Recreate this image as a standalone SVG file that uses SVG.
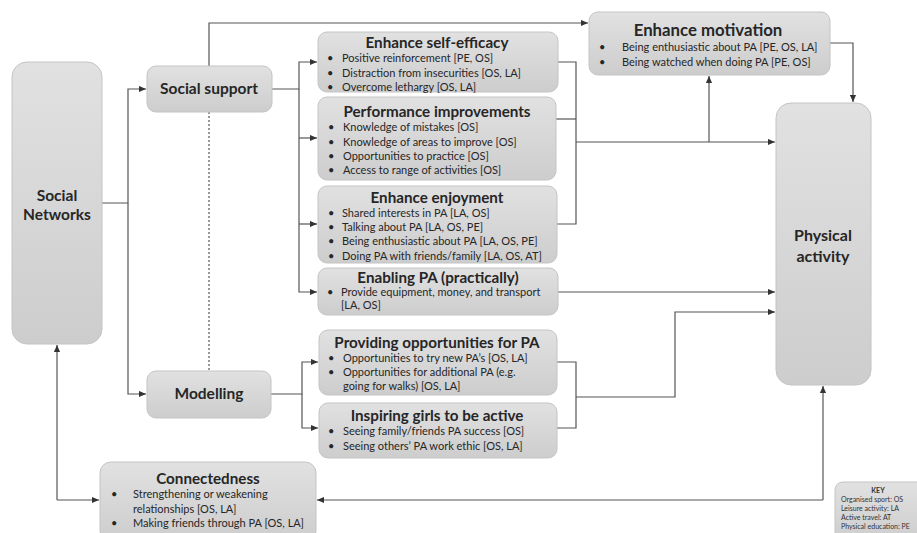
<svg xmlns="http://www.w3.org/2000/svg" width="917" height="533" viewBox="0 0 917 533">
<defs>
<linearGradient id="g" x1="0" y1="0" x2="0" y2="1">
<stop offset="0" stop-color="#e1e1e2"/>
<stop offset="1" stop-color="#cdcdce"/>
</linearGradient>
<marker id="a" viewBox="0 0 8 8" refX="8" refY="4" markerWidth="7" markerHeight="7" markerUnits="userSpaceOnUse" orient="auto">
<path d="M0,0.5 L8,4 L0,7.5 Z" fill="#333"/>
</marker>
<style>
.box{fill:url(#g);stroke:#c4c4c4;stroke-width:1}
.t{font-family:Lato,"Liberation Sans",sans-serif;font-weight:bold;fill:#262626;text-anchor:middle}
.tt{font-size:15.2px}
.big{font-size:15.5px}
.b{font-family:Lato,"Liberation Sans",sans-serif;font-size:11px;fill:#262626}
.k{font-family:Lato,"Liberation Sans",sans-serif;font-size:7px;fill:#333}
.c{fill:none;stroke:#555;stroke-width:1.2}
.arr{marker-end:url(#a)}
</style>
</defs>

<g id="connectors">
<path class="c arr" d="M102,203 H128 V89 H146"/>
<path class="c arr" d="M128,203 V394 H146"/>
<path class="c" d="M209,112 V371" stroke-dasharray="2,2"/>
<path class="c arr" d="M209,66 V23 H588"/>
<path class="c arr" d="M272,89 H299 V62 H317"/>
<path class="c arr" d="M299,89 V292 H317"/>
<path class="c arr" d="M299,138 H317"/>
<path class="c arr" d="M299,224 H317"/>
<path class="c" d="M558,62 H576 V224 H557"/>
<path class="c" d="M556,119 H576"/>
<path class="c arr" d="M576,142 H775"/>
<path class="c arr" d="M709,142 V76"/>
<path class="c arr" d="M558,292 H775"/>
<path class="c arr" d="M271,394 H302 V362 H318"/>
<path class="c arr" d="M302,394 V428 H318"/>
<path class="c" d="M557,362 H576 V428 H557"/>
<path class="c arr" d="M576,397 H675 V312 H775"/>
<path class="c arr" d="M830,43 H853 V102"/>
<path class="c arr" d="M823,500 V386"/>
<path class="c arr" d="M823,500 H317"/>
<path class="c arr" d="M57,500 V345"/>
<path class="c arr" d="M57,500 H99"/>
</g>

<g id="social-networks">
<rect class="box" x="12" y="62" width="90" height="282" rx="15"/>
<text class="t big" x="57" y="201">Social</text>
<text class="t big" x="57" y="220">Networks</text>
</g>

<g id="social-support">
<rect class="box" x="147" y="66" width="125" height="46" rx="9"/>
<text class="t big" x="209" y="94">Social support</text>
</g>

<g id="modelling">
<rect class="box" x="147" y="371" width="124" height="47" rx="9"/>
<text class="t big" x="209" y="399">Modelling</text>
</g>

<g id="enhance-motivation">
<rect class="box" x="589" y="12" width="241" height="63" rx="9"/>
<text class="t" x="708" y="36" font-size="16.8">Enhance motivation</text>
<text class="b" x="599" y="51">•</text><text class="b" x="622" y="51">Being enthusiastic about PA [PE, OS, LA]</text>
<text class="b" x="599" y="66">•</text><text class="b" x="622" y="66">Being watched when doing PA [PE, OS]</text>
</g>

<g id="enhance-self-efficacy">
<rect class="box" x="318" y="32" width="240" height="60" rx="9"/>
<text class="t tt" x="437" y="48">Enhance self-efficacy</text>
<text class="b" x="327" y="62">•</text><text class="b" x="342" y="62">Positive reinforcement [PE, OS]</text>
<text class="b" x="327" y="77">•</text><text class="b" x="342" y="77">Distraction from insecurities [OS, LA]</text>
<text class="b" x="327" y="91">•</text><text class="b" x="342" y="91">Overcome lethargy [OS, LA]</text>
</g>

<g id="performance-improvements">
<rect class="box" x="318" y="97" width="238" height="83" rx="9"/>
<text class="t tt" x="437" y="117">Performance improvements</text>
<text class="b" x="328" y="131">•</text><text class="b" x="343" y="131">Knowledge of mistakes [OS]</text>
<text class="b" x="328" y="146">•</text><text class="b" x="343" y="146">Knowledge of areas to improve [OS]</text>
<text class="b" x="328" y="160">•</text><text class="b" x="343" y="160">Opportunities to practice [OS]</text>
<text class="b" x="328" y="174">•</text><text class="b" x="343" y="174">Access to range of activities [OS]</text>
</g>

<g id="enhance-enjoyment">
<rect class="box" x="318" y="186" width="239" height="77" rx="9"/>
<text class="t tt" x="437" y="203">Enhance enjoyment</text>
<text class="b" x="328" y="217">•</text><text class="b" x="342" y="217">Shared interests in PA [LA, OS]</text>
<text class="b" x="328" y="231">•</text><text class="b" x="342" y="231">Talking about PA [LA, OS, PE]</text>
<text class="b" x="328" y="245">•</text><text class="b" x="342" y="245">Being enthusiastic about PA [LA, OS, PE]</text>
<text class="b" x="328" y="260">•</text><text class="b" x="342" y="260">Doing PA with friends/family [LA, OS, AT]</text>
</g>

<g id="enabling-pa">
<rect class="box" x="318" y="268" width="240" height="47" rx="9"/>
<text class="t tt" x="438" y="283">Enabling PA (practically)</text>
<text class="b" x="327" y="296">•</text><text class="b" x="341" y="296">Provide equipment, money, and transport</text>
<text class="b" x="341" y="309">[LA, OS]</text>
</g>

<g id="providing-opportunities">
<rect class="box" x="319" y="330" width="238" height="65" rx="9"/>
<text class="t tt" x="437" y="348">Providing opportunities for PA</text>
<text class="b" x="328" y="362">•</text><text class="b" x="343" y="362">Opportunities to try new PA’s [OS, LA]</text>
<text class="b" x="328" y="376">•</text><text class="b" x="343" y="376">Opportunities for additional PA (e.g.</text>
<text class="b" x="343" y="390">going for walks) [OS, LA]</text>
</g>

<g id="inspiring-girls">
<rect class="box" x="319" y="403" width="238" height="55" rx="9"/>
<text class="t tt" x="437" y="421">Inspiring girls to be active</text>
<text class="b" x="328" y="435">•</text><text class="b" x="343" y="435">Seeing family/friends PA success [OS]</text>
<text class="b" x="328" y="450">•</text><text class="b" x="343" y="450">Seeing others’ PA work ethic [OS, LA]</text>
</g>

<g id="physical-activity">
<rect class="box" x="776" y="103" width="95" height="282" rx="15"/>
<text class="t" x="823" y="241" font-size="16">Physical</text>
<text class="t" x="823" y="262" font-size="16">activity</text>
</g>

<g id="connectedness">
<rect class="box" x="100" y="462" width="216" height="80" rx="11"/>
<text class="t tt" x="208" y="484">Connectedness</text>
<text class="b" x="111" y="498">•</text><text class="b" x="133" y="498">Strengthening or weakening</text>
<text class="b" x="133" y="513">relationships [OS, LA]</text>
<text class="b" x="111" y="527">•</text><text class="b" x="133" y="527">Making friends through PA [OS, LA]</text>
</g>

<g id="key">
<rect class="box" x="835" y="482" width="100" height="60" rx="8"/>
<text class="k" x="878" y="493" text-anchor="middle" font-weight="bold">KEY</text>
<text class="k" x="841" y="502">Organised sport: OS</text>
<text class="k" x="841" y="511">Leisure activity: LA</text>
<text class="k" x="841" y="520">Active travel: AT</text>
<text class="k" x="841" y="529">Physical education: PE</text>
</g>
</svg>
